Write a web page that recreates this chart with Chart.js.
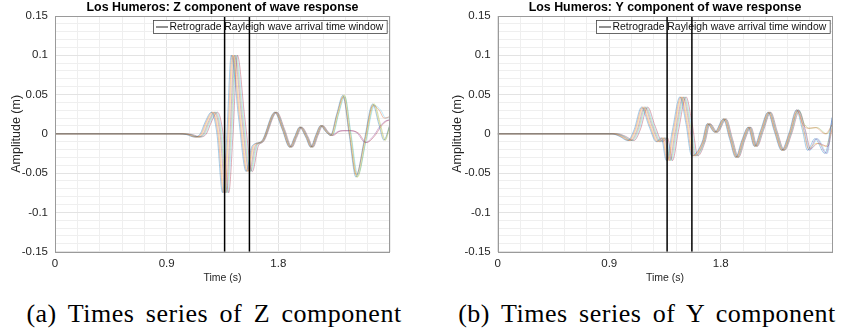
<!DOCTYPE html>
<html>
<head>
<meta charset="utf-8">
<script src="https://cdn.jsdelivr.net/npm/chart.js@4.4.0/dist/chart.umd.min.js"></script>
<style>
  body { margin: 0; background: #fff; width: 851px; height: 330px; position: relative; overflow: hidden; }
  canvas { position: absolute; top: 0; }
  #zChart { left: 0; }
  #yChart { left: 420px; }
  .caption { position: absolute; top: 299px; font-family: "Liberation Serif", serif; font-size: 26px; line-height: 30px;
             word-spacing: 4.5px; letter-spacing: 0.5px; white-space: nowrap; text-align: center; color: #000; }
</style>
</head>
<body>
<canvas id="zChart" width="420" height="290"></canvas>
<canvas id="yChart" width="431" height="290"></canvas>
<div class="caption" style="left:14px;width:400px">(a) Times series of Z component</div>
<div class="caption" style="left:447px;width:400px">(b) Times series of Y component</div>
<script>
// axis setup
const xTickLabels = [0, 0.9, 1.8];
const yTickLabels = [-0.15, -0.1, -0.05, 0, 0.05, 0.1, 0.15];
const windowTimes = [1.367, 1.567];
const legendLabel = 'Retrograde Rayleigh wave arrival time window';

// Z component: first arrival (earliest station), then per-station delays
const zEarlyTime = [0, 1.00, 1.06, 1.12, 1.17, 1.21, 1.26, 1.305, 1.35, 1.385, 1.42, 1.48, 1.54, 1.59];
const zEarlyAmp  = [0, 0, -0.001, -0.004, 0.0, 0.015, 0.0275, 0.0, -0.075, 0.0, 0.100, 0.02, -0.048, -0.015];
const zShifts = [0, 0.008, 0.016, 0.025, 0.033, 0.041, 0.05];
// Z coda (three variants near the end) and its smaller per-station delays
const zLateTime  = [1.66, 1.77, 1.83, 1.89, 1.93, 1.97, 2.02, 2.06, 2.10, 2.14, 2.18, 2.22, 2.27, 2.32, 2.37, 2.425, 2.49, 2.56, 2.61, 2.65, 2.70];
const zLateMain  = [-0.010, 0.0275, 0.006, -0.017, -0.004, 0.0085, -0.004, -0.017, -0.002, 0.0105, 0.003, -0.002, 0.025, 0.049, 0.0, -0.055, -0.010, 0.038, 0.012, -0.008, 0.012];
const zLateAlt   = [-0.010, 0.0275, 0.006, -0.017, -0.004, 0.0085, -0.004, -0.017, -0.002, 0.0105, 0.003, -0.002, 0.003, 0.004, 0.004, 0.001, -0.011, -0.002, 0.010, 0.016, 0.018];
const zLateThird = [-0.010, 0.0275, 0.006, -0.017, -0.004, 0.0085, -0.004, -0.017, -0.002, 0.0105, 0.003, -0.002, 0.025, 0.047, 0.0, -0.052, -0.010, 0.036, 0.030, 0.020, 0.022];
const zVariant = [0, 2, 0, 1, 0, 2, 1];
const zLateShifts = [0, 0.003, 0.006, 0.01, 0.013, 0.016, 0.02];

// Y component
const yEarlyTime = [0, 0.92, 0.98, 1.05, 1.10, 1.16, 1.22, 1.28, 1.32, 1.36, 1.41, 1.47, 1.52, 1.565];
const yEarlyAmp  = [0, 0, -0.003, -0.0085, 0.005, 0.034, 0.010, -0.010, -0.005, -0.034, 0.005, 0.047, 0.012, -0.028];
const yShifts = [0, 0.008, 0.016, 0.025, 0.033, 0.041, 0.05];
const yLateTime  = [1.65, 1.69, 1.75, 1.82, 1.87, 1.92, 1.97, 2.02, 2.07, 2.12, 2.18, 2.23, 2.29, 2.35, 2.41, 2.46, 2.50, 2.56, 2.64, 2.70];
const yLateMain  = [-0.010, 0.013, 0.002, 0.019, -0.006, -0.030, -0.008, 0.0085, -0.016, 0.004, 0.0275, 0.004, -0.021, 0.001, 0.0305, 0.004, -0.021, -0.006, -0.025, 0.021];
const yLateAlt   = [-0.010, 0.013, 0.002, 0.019, -0.006, -0.030, -0.008, 0.0085, -0.016, 0.004, 0.0275, 0.004, -0.021, 0.001, 0.0305, 0.012, 0.007, 0.008, 0.000, 0.012];
const yLateThird = [-0.010, 0.013, 0.002, 0.019, -0.006, -0.030, -0.008, 0.0085, -0.016, 0.004, 0.0275, 0.004, -0.021, 0.001, 0.0290, 0.004, -0.019, -0.012, -0.016, 0.008];
const yVariant = [0, 1, 2, 0, 1, 0, 2];
const yLateShifts = [0, 0.004, 0.008, 0.012, 0.016, 0.02, 0.024];

const traceColors = ['#0072BD80', '#D9531980', '#EDB12080', '#7E2F8E80', '#77AC3080', '#4DBEEE80', '#A2142F80'];
const FONT = '"Liberation Sans", Arial, sans-serif';

function buildTraces(earlyT, earlyA, shifts, lateT, lateSets, variantOf, lateShifts) {
  return shifts.map((shift, i) => {
    const pts = earlyT.map((t, k) => ({ x: k === 0 ? t : t + shift, y: earlyA[k] }));
    const late = lateSets[variantOf[i]];
    lateT.forEach((t, k) => pts.push({ x: Math.min(t + lateShifts[i], 2.7), y: late[k] }));
    return pts;
  });
}

const isIn = (v, list) => list.some(l => Math.abs(l - v) < 1e-6);

// MATLAB-style decorations: title centred on the axes, boxed legend inside, axes box
const axesDecor = {
  id: 'axesDecor',
  beforeDatasetsDraw(chart) {
    const { ctx, chartArea } = chart;
    ctx.save();
    ctx.font = '10.4px ' + FONT;
    const tw = ctx.measureText(legendLabel).width;
    const w = tw + 20, h = 13;
    const x = Math.round(chartArea.right - 3 - w), y = Math.round(chartArea.top + 4);
    ctx.fillStyle = '#fff';
    ctx.fillRect(x, y, w, h);
    ctx.strokeStyle = '#444';
    ctx.lineWidth = 0.8;
    ctx.strokeRect(x + 0.5, y + 0.5, w, h);
    ctx.strokeStyle = '#222';
    ctx.lineWidth = 1;
    ctx.beginPath();
    ctx.moveTo(x + 3, y + h / 2 + 0.5);
    ctx.lineTo(x + 15, y + h / 2 + 0.5);
    ctx.stroke();
    ctx.fillStyle = '#111';
    ctx.textBaseline = 'middle';
    ctx.fillText(legendLabel, x + 16.5, y + h / 2 + 1);
    ctx.restore();
  },
  afterDraw(chart) {
    const { ctx, chartArea } = chart;
    ctx.save();
    ctx.strokeStyle = '#9a9a9a';
    ctx.lineWidth = 1;
    ctx.strokeRect(Math.round(chartArea.left) + 0.5, Math.round(chartArea.top) + 0.5,
                   Math.round(chartArea.right - chartArea.left) - 1, Math.round(chartArea.bottom - chartArea.top));
    ctx.fillStyle = '#000';
    ctx.font = 'bold 12.4px ' + FONT;
    ctx.textAlign = 'center';
    ctx.textBaseline = 'middle';
    ctx.fillText(chart.options.plugins.axesDecor.title, (chartArea.left + chartArea.right) / 2, 7.5);
    ctx.restore();
  }
};

function makeChart(id, title, traces, yAxisWidth, rightPad, yTitlePad) {
  const datasets = windowTimes.map(t => ({
    data: [{ x: t, y: -0.15 }, { x: t, y: 0.15 }],
    borderColor: '#000', borderWidth: 1.5, pointRadius: 0, order: 0
  }));
  traces.forEach((pts, i) => datasets.push({
    data: pts,
    borderColor: traceColors[i % traceColors.length],
    borderWidth: 0.7,
    pointRadius: 0,
    cubicInterpolationMode: 'monotone',
    order: 1
  }));

  return new Chart(document.getElementById(id), {
    type: 'line',
    data: { datasets },
    plugins: [axesDecor],
    options: {
      responsive: false,
      animation: false,
      events: [],
      layout: { padding: { left: 0, right: rightPad, top: 16, bottom: 0 } },
      plugins: {
        legend: { display: false },
        tooltip: { enabled: false },
        title: { display: false },
        axesDecor: { title }
      },
      scales: {
        x: {
          type: 'linear', min: 0, max: 2.7,
          afterFit: s => { s.height = 38.3; },
          border: { display: false },
          grid: {
            drawTicks: false,
            color: c => isIn(c.tick.value, xTickLabels) ? '#e3e3e3' : '#efefef'
          },
          ticks: {
            stepSize: 0.18, autoSkip: false, maxRotation: 0, padding: 5,
            color: '#262626', font: { family: FONT, size: 11.5 },
            callback: v => isIn(v, xTickLabels) ? String(xTickLabels.find(l => Math.abs(l - v) < 1e-6)) : ''
          },
          title: {
            display: true, text: 'Time (s)', color: '#262626',
            font: { family: FONT, size: 10.5 }, padding: { top: 4, bottom: 6 }
          }
        },
        y: {
          min: -0.15, max: 0.15,
          afterFit: s => { s.width = yAxisWidth; },
          border: { display: false },
          grid: {
            drawTicks: false,
            color: c => isIn(c.tick.value, yTickLabels) ? '#e3e3e3' : '#efefef'
          },
          ticks: {
            stepSize: 0.01, autoSkip: false, padding: 7,
            color: '#262626', font: { family: FONT, size: 11.5 },
            callback: v => isIn(v, yTickLabels) ? String(yTickLabels.find(l => Math.abs(l - v) < 1e-6)) : ''
          },
          title: {
            display: true, text: 'Amplitude (m)', color: '#262626',
            font: { family: FONT, size: 12.5 }, padding: { top: yTitlePad, bottom: 0 }
          }
        }
      }
    }
  });
}

const zTraces = buildTraces(zEarlyTime, zEarlyAmp, zShifts, zLateTime, [zLateMain, zLateAlt, zLateThird], zVariant, zLateShifts);
const yTraces = buildTraces(yEarlyTime, yEarlyAmp, yShifts, yLateTime, [yLateMain, yLateAlt, yLateThird], yVariant, yLateShifts);

makeChart('zChart', 'Los Humeros: Z component of wave response', zTraces, 55, 30, 9.5);
makeChart('yChart', 'Los Humeros: Y component of wave response', yTraces, 77.7, 18.7, 30.5);
</script>
</body>
</html>
